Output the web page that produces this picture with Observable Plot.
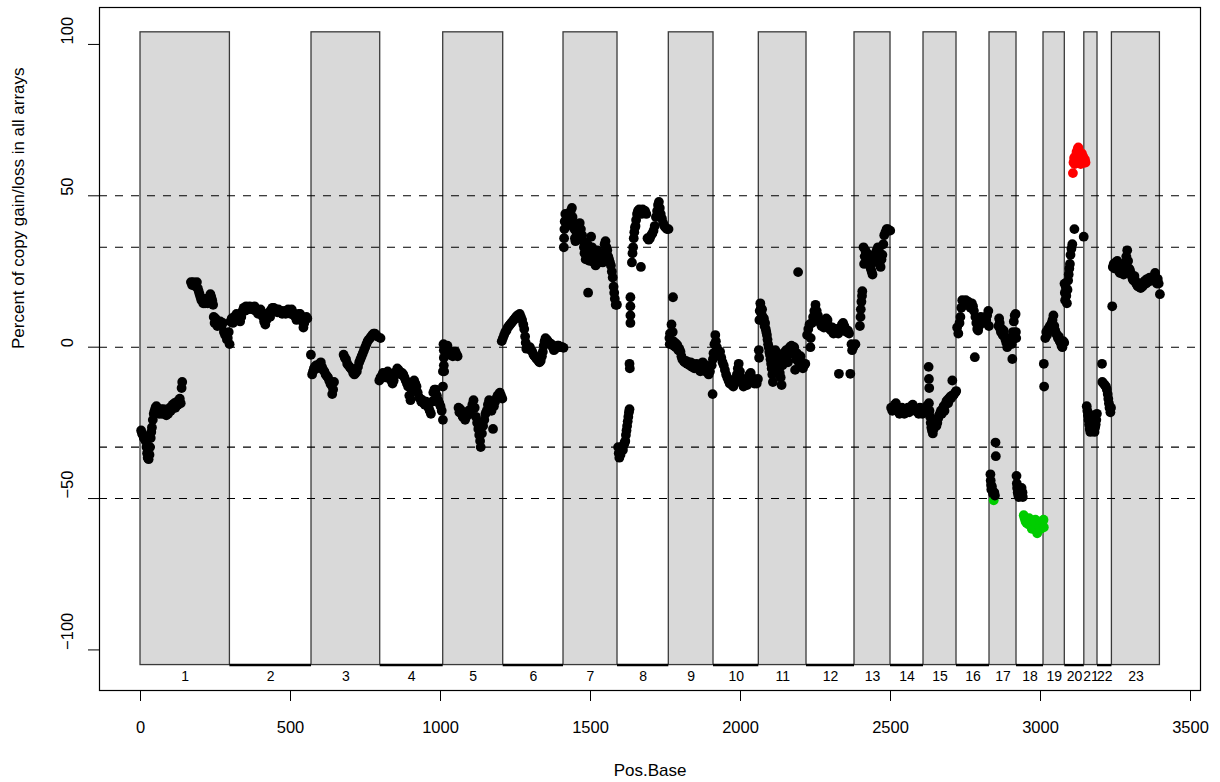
<!DOCTYPE html>
<html>
<head>
<meta charset="utf-8">
<script src="https://cdn.jsdelivr.net/npm/d3@7"></script>
<script src="https://cdn.jsdelivr.net/npm/@observablehq/plot@0.6"></script>
<style>
  html, body { margin: 0; padding: 0; background: #fff; }
</style>
</head>
<body>
<div id="chart"></div>
<script>
// ---------- chromosome layout ----------
const chromLabels = ["1","2","3","4","5","6","7","8","9","10","11","12","13","14","15","16","17","18","19","20","21","22","23"];
const chromStart = [0,298,570,799,1009,1209,1410,1590,1761,1910,2061,2220,2380,2500,2610,2720,2830,2920,3010,3081,3146,3190,3238];
const chromEnd   = [298,570,799,1009,1209,1410,1590,1761,1910,2061,2220,2380,2500,2610,2720,2830,2920,3010,3081,3146,3190,3238,3398];
const rectBottom = -105;
const rectTop = 104;

// ---------- axes ----------
const xTicks = [0,500,1000,1500,2000,2500,3000,3500];
const yTicks = [-100,-50,0,50,100];
const thresholds = [50,33,0,-33,-50];
const gainCut = 50, lossCut = -50;

// ---------- data: [Pos.Base, percent] per chromosome ----------
const chr1 = [[2,-27.5],[5,-28.5],[8,-29],[11,-30],[14,-29.5],[17,-31],[20,-33],[22,-35],[24,-36.5],[27,-37],[30,-35.5],[32,-33],[34,-30],[36,-28],[38,-26.5],[41,-24],[44,-22],[47,-21],[50,-20],[53,-19.5],[56,-20.5],[59,-21],[62,-22],[65,-21.5],[68,-20.5],[71,-22],[74,-21],[77,-20.5],[80,-22],[83,-21.5],[86,-22.5],[89,-21],[92,-22],[95,-21],[98,-20],[101,-21],[104,-20],[107,-19],[110,-19.5],[113,-18.5],[116,-20],[119,-19],[122,-18],[125,-19],[128,-17.5],[131,-17],[134,-18.5],[137,-13.5],[139,-11.5],
  [168,21.5],[172,20.5],[176,21.5],[180,21],[184,20],[188,21.5],[191,19.5],[194,18.5],[197,17.5],[200,16.5],[203,15.5],[206,16],[209,14.5],[212,15],[215,14.5],[218,15.5],[221,16],[224,14.5],[227,15],[230,16.5],[233,17.5],[236,16.5],[239,15.5],[242,14],[244,10],[247,8],[250,9.5],[253,8],[256,7],[259,8],[262,7.5],[266,8.5],[270,7],[274,8],[278,5],[282,4],[285,4.5],[288,2.5],[291,3],[294,5],[297,1]];
const chr2 = [[300,8.5],[304,9.5],[308,8],[312,10],[316,9],[320,11],[324,10.5],[328,9],[332,8.5],[336,10],[340,12],[344,13],[348,12],[352,13.5],[356,13],[360,12.5],[364,13.5],[368,13],[372,12.5],[376,13],[380,13.5],[384,12],[388,12.5],[392,11],[396,12],[400,12.5],[404,11.5],[408,10],[412,8.5],[416,7.5],[420,9],[424,10.5],[428,11.5],[432,10],[436,12.5],[440,13],[444,13],[448,12.5],[452,12],[456,11.5],[460,12.5],[464,12],[468,12],[472,11],[476,11.5],[480,12],[484,11],[488,11.5],[492,12.5],[496,12],[500,11],[504,12.5],[508,11.5],[512,10.5],[516,10],[520,9],[524,10.5],[528,11],[532,11],[536,10],[540,8.5],[543,6.5],[546,8],[550,9.5],[553,10],[556,9.5]];
const chr3 = [[568,-2.5],[572,-9],[575,-8],[578,-7],[581,-6.5],[585,-6],[589,-7],[593,-6],[597,-5.5],[601,-5],[605,-6.5],[609,-7.5],[613,-8],[617,-9],[621,-9.5],[625,-10],[629,-11],[633,-12],[636,-12.5],[639,-15.5],[642,-14],[645,-11.5],
  [677,-2.5],[681,-3.5],[685,-4],[689,-5.5],[693,-6],[697,-6.5],[701,-7],[705,-7.5],[709,-8.5],[713,-9],[717,-8.5],[721,-8],[725,-6.5],[729,-5],[733,-4],[737,-3],[741,-2],[745,-1],[749,0],[753,1],[757,2],[761,2.5],[765,3],[769,3.5],[773,4],[777,4.5],[781,4.5],[785,4],[790,3.5],[800,3]];
const chr4 = [[796,-11],[800,-10],[804,-9.5],[808,-8.5],[812,-9],[816,-10],[820,-9],[824,-8],[828,-9.5],[832,-10.5],[836,-11],[840,-12],[844,-11],[848,-9],[852,-8],[856,-7],[860,-7.5],[864,-8],[868,-9],[872,-8.5],[876,-9],[880,-10],[884,-11],[888,-12],[892,-13],[896,-16],[900,-17.5],[904,-14],[908,-12.5],[912,-11],[916,-12],[920,-13],[924,-15],[928,-16.5],[932,-17],[936,-18],[940,-17.5],[944,-18.5],[948,-19],[952,-18],[956,-19],[960,-20],[964,-21],[968,-22],[972,-18],[976,-15],[980,-14],[984,-14],[988,-16],[992,-17.5],[996,-18.5],[1000,-19.5],[1004,-21],[1008,-24],[1008,-13],[1008,-8]];
const chr5 = [[1010,1],[1011,-1],[1011,-3.5],[1011,-6],[1012,-8],[1014,0],[1017,-1],[1020,-2],[1023,0.5],[1026,-1],[1029,-2],[1032,-2.5],[1035,-1.5],[1038,-2],[1041,-3],[1044,-1.5],[1047,-2],[1050,-1.5],[1054,-2.5],[1057,-3],
  [1060,-20],[1063,-21.5],[1066,-20.5],[1070,-22],[1074,-23],[1078,-22],[1082,-24],[1086,-23],[1090,-22],[1094,-21],[1098,-22],[1102,-20.5],[1106,-19],[1110,-17.5],[1114,-20],[1118,-23],[1122,-25],[1126,-27],[1129,-29],[1132,-31],[1134,-33],[1138,-28.5],[1142,-26],[1146,-24],[1150,-22],[1154,-21],[1158,-19],[1162,-17.5],[1166,-20],[1170,-21],[1175,-27],[1178,-19.5],[1182,-18],[1186,-17],[1190,-16],[1194,-15.5],[1198,-15],[1202,-16],[1206,-17]];
const chr6 = [[1204,2],[1208,3],[1212,4],[1216,5],[1220,5.5],[1224,6.5],[1228,7],[1232,7.5],[1236,8],[1240,8.5],[1244,9],[1248,9.5],[1252,10],[1256,10.5],[1260,10.5],[1264,11],[1268,10],[1272,9],[1276,7.5],[1279,6],[1282,3.5],[1284,1.5],[1286,-0.5],[1290,0],[1294,-0.5],[1298,0],[1302,-1],[1306,-1.5],[1310,-2.5],[1314,-3],[1318,-3.5],[1322,-4],[1326,-4.5],[1330,-5],[1334,-4.5],[1338,-3],[1341,-1.5],[1344,0.5],[1347,2],[1350,3],[1354,2.5],[1358,2],[1362,1.5],[1366,1],[1370,1],[1374,0],[1378,-1],[1382,-0.5],[1386,0],[1390,0.5],[1394,0.5],[1398,0],[1402,0],[1406,0],[1410,-0.2]];
const chr7 = [[1411,33],[1412,36],[1413,39],[1414,41.5],[1416,44],[1418,42],[1420,40],[1423,43],[1426,41],[1430,44],[1434,45],[1438,46],[1440,43],[1443,41],[1446,39],[1448,36],[1450,35],[1453,38],[1456,40],[1460,39],[1464,41],[1468,39],[1472,37],[1476,35],[1478,33],[1480,31],[1484,29],[1487,32],[1490,34],[1493,31],[1496,28.5],[1499,30],[1492,18],[1502,36.5],[1505,33],[1508,30],[1511,28],[1514,30],[1517,27],[1520,29],[1523,32],[1526,30],[1529,28],[1532,30],[1535,29],[1538,31],[1541,28],[1544,30],[1547,34],[1550,35],[1553,33],[1556,32],[1559,30],[1562,29],[1565,28],[1568,27],[1571,25],[1574,23],[1577,20],[1579,18],[1581,16],[1584,14],[1588,14]];
const chr8 = [[1592,-33],[1594,-35],[1596,-36.5],[1598,-34],[1600,-35.5],[1602,-34],[1604,-33.5],[1606,-33],[1608,-34],[1610,-32.5],[1612,-32],[1614,-31.5],[1616,-31],[1618,-29],[1620,-27.5],[1622,-26],[1624,-24.5],[1626,-23],[1628,-21.5],[1630,-20.5],
  [1630,-5.5],[1631,-7],[1633,8],[1633,10.5],[1633,13.5],[1633,16.5],
  [1638,28],[1640,31],[1642,33],[1644,36],[1646,38],[1648,39.5],[1650,40],[1652,42],[1655,44],[1658,45],[1662,45.5],[1666,45],[1668,26.5],[1670,44],[1674,45.5],[1678,45],[1682,45],[1686,44],[1690,36],[1694,35.5],[1698,36],[1702,37],[1706,37.5],[1710,38.5],[1714,40],[1718,43],[1722,45],[1725,47],[1728,48],[1731,46],[1734,44],[1738,42.5],[1742,41],[1746,40],[1750,39.5],[1755,39],[1760,39]];
const chr9 = [[1763,3],[1764,1],[1765,4.5],[1768,2],[1770,7.5],[1775,16.5],[1774,5],[1776,2],[1778,0.5],[1781,1.5],[1784,0],[1787,1],[1790,0.5],[1793,-1],[1796,-0.5],[1800,-1.5],[1803,-3],[1806,-4],[1810,-4.5],[1814,-5],[1818,-4.5],[1822,-5.5],[1826,-5],[1830,-6],[1834,-5],[1838,-6.5],[1842,-5.5],[1846,-7],[1850,-6],[1854,-5.5],[1858,-7],[1862,-6.5],[1866,-8],[1870,-6],[1874,-5],[1878,-7],[1882,-8],[1886,-6],[1890,-7.5],[1894,-9],[1898,-8],[1907,-15.5],[1904,-6],[1908,-4],[1910,-2]];
const chr10 = [[1913,1],[1916,4],[1918,2],[1921,0],[1924,-1],[1928,-2],[1932,-1.5],[1936,-3.5],[1940,-5],[1944,-6],[1948,-7.5],[1952,-9],[1956,-10],[1960,-11],[1964,-12],[1968,-11],[1972,-12.5],[1976,-13],[1980,-11.5],[1984,-10.5],[1988,-9],[1991,-7],[1994,-5.5],[1998,-8],[2002,-10],[2006,-12],[2010,-13],[2014,-12],[2018,-11],[2022,-12.5],[2026,-11],[2030,-9],[2034,-8.5],[2038,-10],[2042,-11.5],[2046,-12],[2050,-11],[2054,-12],[2058,-10.5]];
const chr11 = [[2061,-1],[2062,-3.5],[2063,9],[2064,12],[2066,14.5],[2068,13],[2070,11],[2072,12.5],[2074,10],[2076,8.5],[2078,9.5],[2080,7],[2082,8],[2084,6],[2086,5],[2088,4],[2090,2.5],[2092,1],[2094,0],[2096,-1.5],[2098,-2.5],[2100,-4],[2102,-5.5],[2104,-7],[2106,-9],[2108,-11.5],[2110,-6],[2113,-3],[2116,-1],[2119,-4],[2122,-5.5],[2125,-3],[2128,-7],[2131,-8.5],[2134,-10],[2137,-12.5],[2140,-6],[2143,-2],[2146,-4],[2149,-2.5],[2152,-1],[2155,-3],[2158,-5],[2161,-2],[2164,0],[2167,-1],[2170,0.5],[2173,-2],[2176,-0.5],[2179,0],[2182,-7.5],[2185,-4],[2188,-2],[2192,24.8],[2194,-5],[2197,-3.5],[2200,-3],[2204,-5],[2208,-7],[2212,-6],[2216,-5.5]];
const chr12 = [[2222,4],[2226,6],[2230,7.5],[2233,0],[2234,3],[2238,8],[2242,10],[2246,12],[2250,14],[2254,12],[2258,10.5],[2262,9],[2266,8],[2270,7],[2274,8],[2278,6.5],[2282,8],[2286,9.5],[2290,9],[2294,7],[2298,6],[2302,5.5],[2306,6.5],[2310,4.5],[2314,5.5],[2318,6],[2322,5],[2326,4.5],[2328,-8.8],[2330,5.5],[2334,6.5],[2338,7.5],[2342,8],[2346,7],[2350,6],[2354,5],[2358,5.5],[2362,4.5],[2366,-8.8],[2370,1],[2372,-1],[2376,0]];
const chr13 = [[2383,1],[2398,7],[2400,10],[2401,12.5],[2403,15],[2405,17],[2406,18.5],[2410,33],[2412,27.5],[2414,30],[2416,32],[2418,31],[2420,29],[2422,31],[2425,28],[2428,30],[2431,27],[2434,26],[2437,25],[2440,24],[2443,28],[2446,29.5],[2450,31],[2454,32],[2458,33],[2461,32],[2464,28],[2467,26.5],[2470,29],[2473,30.5],[2476,34],[2479,37],[2483,38],[2487,39],[2491,39],[2495,38.5],[2499,38.5]];
const chr14 = [[2502,-20],[2506,-21],[2510,-20],[2514,-19],[2518,-18.5],[2522,-20],[2526,-21],[2530,-22],[2534,-21.5],[2538,-20],[2542,-21],[2546,-22],[2550,-21],[2554,-20.5],[2558,-20],[2562,-21.5],[2566,-20],[2570,-19.5],[2574,-19],[2578,-20],[2582,-21],[2586,-20.5],[2590,-21],[2594,-22],[2598,-20],[2602,-21],[2606,-22]];
const chr15 = [[2612,-21],[2616,-20],[2620,-19.5],[2624,-21],[2627,-6.5],[2628,-10.5],[2629,-13.5],[2628,-18.5],[2630,-21],[2632,-23],[2634,-25],[2636,-26.5],[2638,-27.5],[2641,-28.5],[2644,-27],[2647,-26],[2650,-25],[2653,-26],[2656,-25],[2659,-23.5],[2662,-22.5],[2665,-22],[2668,-21],[2671,-22],[2674,-20.5],[2677,-19.5],[2680,-21],[2683,-19],[2686,-18],[2689,-17.5],[2692,-18.5],[2695,-17],[2698,-16.5],[2701,-17],[2704,-16],[2706,-11],[2709,-16],[2712,-15.5],[2716,-15],[2719,-14.5]];
const chr16 = [[2722,6.5],[2726,4.5],[2730,8],[2733,10],[2736,13],[2739,15.5],[2743,15],[2747,14],[2751,15.5],[2755,14.5],[2759,15],[2763,14],[2767,13],[2771,14.5],[2775,13.5],[2778,12],[2781,-3.3],[2783,10],[2786,8],[2789,6],[2792,5.5],[2795,7],[2798,9],[2801,10],[2804,9],[2807,8.5],[2810,8],[2813,9.5],[2816,8.5],[2819,9],[2822,10.5],[2826,12],[2828,7]];
const chr17 = [[2833,-42],[2834,-44],[2835,-45.5],[2836,-47],[2838,-46],[2840,-47.5],[2842,-48.5],[2844,-50.6],[2846,-48],[2848,-49],[2850,-31.5],[2851,-36],
  [2860,7],[2862,9.5],[2864,8],[2866,6],[2868,5],[2871,6],[2874,4],[2877,5.5],[2880,3.5],[2883,2.5],[2886,1.5],[2889,0],[2892,1],[2895,2],[2898,3],[2901,2],[2904,1],[2906,-3.9],[2908,5],[2911,8.5],[2914,10.5],[2917,11],[2918,5],[2919,3]];
const chr18 = [[2920,-42.5],[2921,-45],[2922,-46.5],[2924,-48],[2926,-49],[2928,-49.5],[2931,-48.5],[2934,-47.5],[2937,-46.5],[2940,-48],[2941,-49.5],
  [2944,-55.5],[2947,-56.5],[2950,-57.5],[2953,-58],[2956,-57],[2959,-58.5],[2962,-56.5],[2965,-58],[2968,-59],[2971,-60],[2974,-58.5],[2977,-59.5],[2980,-60],[2983,-57],[2986,-60.5],[2989,-61.5],[2992,-60.5],[2995,-59],[2998,-58],[3001,-60],[3004,-58.5],[3007,-57.5],[3010,-57],[3011,-59.5]];
const chr19 = [[3011,-5.5],[3012,-13],[3016,3],[3019,5],[3022,4],[3025,6],[3028,5.5],[3031,7],[3034,6.5],[3037,8],[3040,9],[3043,10.5],[3046,7],[3049,5.5],[3052,4.5],[3055,4],[3058,3],[3061,3.5],[3064,2],[3067,1.5],[3070,0.5],[3073,0],[3076,2],[3079,1.5]];
const chr20 = [[3080,21],[3081,18],[3082,15.5],[3084,20],[3086,17],[3088,14.5],[3090,19],[3092,22],[3094,24],[3096,26],[3098,27.5],[3100,30.5],[3103,32.5],[3106,34],[3113,39],[3144,36.5],
  [3108,57.5],[3110,61],[3112,62.5],[3114,60.5],[3116,63],[3118,61.5],[3120,64.5],[3122,62],[3124,65.5],[3126,66],[3128,64],[3130,61.5],[3132,63],[3134,60.5],[3136,62.5],[3138,64],[3140,61.5],[3142,63],[3144,62],[3146,61],[3148,62],[3150,61]];
const chr21 = [[3154,-19.5],[3156,-21],[3158,-22.5],[3160,-24],[3162,-25.5],[3164,-27],[3166,-28],[3168,-27],[3170,-25],[3172,-22.5],[3174,-24],[3176,-26],[3178,-27.5],[3180,-28],[3182,-26.5],[3184,-25.5],[3186,-24],[3188,-22]];
const chr22 = [[3205,-5.5],[3206,-11.5],[3210,-12],[3214,-12.5],[3218,-13],[3221,-14],[3224,-15.5],[3226,-17],[3228,-18.5],[3230,-20],[3233,-21.5],[3235,-20]];
const chr23 = [[3239,13.5],[3241,26.5],[3244,27.5],[3247,26],[3250,28],[3253,27],[3256,28.5],[3259,26],[3262,25],[3265,24.5],[3268,26],[3271,27],[3274,25.5],[3277,24],[3280,27],[3283,28],[3286,30],[3289,32],[3292,28.5],[3295,26],[3298,25.5],[3301,24.5],[3304,23.5],[3307,22.5],[3310,22],[3313,23.5],[3316,22],[3319,21],[3322,20.5],[3325,20],[3328,21],[3331,20],[3334,19.5],[3337,20.5],[3340,20],[3343,21.5],[3346,21],[3349,22],[3352,21],[3355,22.5],[3358,21.5],[3361,22],[3364,23],[3367,22.5],[3370,22],[3373,23],[3376,22.5],[3379,23.5],[3382,24.5],[3385,23],[3388,21],[3391,22.5],[3394,21],[3398,17.5]];

// ---------- build tables ----------
const chroms = chromLabels.map((label, i) => ({
  label, start: chromStart[i], end: chromEnd[i], mid: (chromStart[i] + chromEnd[i]) / 2, odd: i % 2 === 0
}));
const allChr = [chr1,chr2,chr3,chr4,chr5,chr6,chr7,chr8,chr9,chr10,chr11,chr12,chr13,chr14,chr15,chr16,chr17,chr18,chr19,chr20,chr21,chr22,chr23];
const points = allChr.flat().map(([pos, pct]) => ({pos, pct}));
const colorOf = d => d.pct > gainCut ? "#FF0000" : d.pct < lossCut ? "#00CD00" : "#000000";

const fmt = d => (d < 0 ? "\u2212" + Math.abs(d) : String(d));

const chart = Plot.plot({
  width: 1220,
  height: 782,
  marginLeft: 99,
  marginRight: 20,
  marginTop: 7,
  marginBottom: 92,
  style: {fontFamily: "'Liberation Sans', Arial, Helvetica, sans-serif", fontSize: "16.5px", color: "#000", background: "#fff"},
  x: {domain: [-136.7, 3533.3], axis: null},
  y: {domain: [-113.4, 112.2], axis: null},
  marks: [
    Plot.rect(chroms.filter(d => d.odd), {x1: "start", x2: "end", y1: rectBottom, y2: rectTop, fill: "#D9D9D9", stroke: "#3a3a3a", strokeWidth: 1.3}),
    Plot.ruleY(chroms.filter(d => !d.odd), {x1: "start", x2: "end", y: rectBottom, stroke: "#000", strokeWidth: 2.4}),
    Plot.ruleY(thresholds, {stroke: "#000", strokeWidth: 1.1, strokeDasharray: "8,8"}),
    Plot.dot(points, {x: "pos", y: "pct", r: 4.9, fill: colorOf, stroke: null}),
    Plot.text(chroms, {x: "mid", text: "label", frameAnchor: "bottom", dy: -10, fontSize: 14}),
    Plot.frame({stroke: "#000", strokeWidth: 1.2}),
    Plot.axisX(xTicks, {anchor: "bottom", tickSize: 11, tickPadding: 20, tickFormat: d => String(d), label: null, fontSize: 16.5}),
    Plot.axisY(yTicks, {anchor: "left", tickSize: 11, tickFormat: () => "", label: null}),
    Plot.text(yTicks, {y: d => d, text: fmt, frameAnchor: "left", dx: -32, rotate: -90, fontSize: 16.5}),
    Plot.text(["Pos.Base"], {text: d => d, frameAnchor: "bottom", dy: 85, fontSize: 17}),
    Plot.text(["Percent of copy gain/loss in all arrays"], {text: d => d, frameAnchor: "left", dx: -81, rotate: -90, fontSize: 17})
  ]
});
document.getElementById("chart").appendChild(chart);
</script>
</body>
</html>
